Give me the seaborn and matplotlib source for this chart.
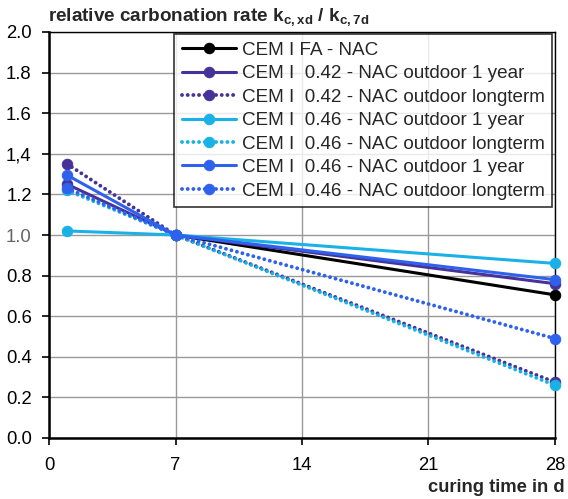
import pandas as pd
import matplotlib.pyplot as plt
import seaborn as sns

# Datos
series_names = ['CEM I FA - NAC',
                'CEM I  0.42 - NAC outdoor 1 year',
                'CEM I  0.42 - NAC outdoor longterm',
                'CEM I  0.46 - NAC outdoor 1 year',
                'CEM I  0.46 - NAC outdoor longterm',
                'CEM I  0.46 - NAC outdoor 1 year',
                'CEM I  0.46 - NAC outdoor longterm']
days_black = [7, 28]
days = [1, 7, 28]
fa_nac = [1.0, 0.705]
cem042_1y = [1.25, 1.0, 0.76]
cem042_lt = [1.35, 1.0, 0.275]
cem046_1y_a = [1.02, 1.0, 0.86]
cem046_lt_a = [1.22, 1.0, 0.26]
cem046_1y_b = [1.295, 1.0, 0.78]
cem046_lt_b = [1.23, 1.0, 0.49]

y_ticks = [0.0, 0.2, 0.4, 0.6, 0.8, 1.0, 1.2, 1.4, 1.6, 1.8, 2.0]
y_tick_labels = ['0.0', '0.2', '0.4', '0.6', '0.8', '1.0', '1.2', '1,4', '1.6', '1.8', '2.0']
x_ticks = [0, 7, 14, 21, 28]

sns.set_style('white')
plt.rcParams['font.family'] = ['Liberation Sans', 'DejaVu Sans']
plt.rcParams['mathtext.fontset'] = 'custom'
plt.rcParams['mathtext.rm'] = 'Liberation Sans'
plt.rcParams['mathtext.bf'] = 'Liberation Sans:bold'

fig = plt.figure(figsize=(5.68, 4.99), dpi=100)
ax = fig.add_axes([49 / 568, 1 - 438 / 499, 506 / 568, 406 / 499])

purple = '#46339a'
cyan = '#1ab2e6'
blue = '#2f62ec'
dotted = (0, (0.01, 1.45))

estilos = [
    (days_black, fa_nac, 'black', '-'),
    (days, cem042_1y, purple, '-'),
    (days, cem042_lt, purple, dotted),
    (days, cem046_1y_a, cyan, '-'),
    (days, cem046_lt_a, cyan, dotted),
    (days, cem046_1y_b, blue, '-'),
    (days, cem046_lt_b, blue, dotted),
]

for name, (x, y, c, ls) in zip(series_names, estilos):
    df = pd.DataFrame({'x': x, 'y': y})
    sns.lineplot(data=df, x='x', y='y', ax=ax, color=c, linestyle=ls,
                 linewidth=2.2 if ls == '-' else 2.8, marker='o', markersize=7.5,
                 markeredgecolor=c, dash_capstyle='round', label=name,
                 clip_on=False, zorder=3)

ax.set_xlim(0, 28)
ax.set_ylim(0, 2.0)
ax.set_xticks(x_ticks)
ax.set_yticks(y_ticks)
ax.set_yticklabels(y_tick_labels)
ax.tick_params(axis='both', labelsize=13.3, direction='out', length=5, width=1.2,
               left=True, bottom=True, colors='black')
ax.tick_params(axis='y', pad=7.5)
ax.tick_params(axis='x', pad=9)
ax.get_yticklabels()[5].set_color('#666666')
ax.grid(True, color='#999999', linewidth=1.0)
ax.set_axisbelow(True)
for s in ['left', 'bottom']:
    ax.spines[s].set_color('black')
    ax.spines[s].set_linewidth(1.8)
for s in ['right', 'top']:
    ax.spines[s].set_color('black')
    ax.spines[s].set_linewidth(1.0)
ax.set_xlabel('')
ax.set_ylabel('')

leg = ax.legend(loc='upper right', bbox_to_anchor=(552 / 568, 1 - 34 / 499),
                bbox_transform=fig.transFigure, fontsize=13.6, frameon=True,
                fancybox=False, handlelength=2.85, handletextpad=0.32,
                borderpad=0.4, labelspacing=0.33, borderaxespad=0)
leg.get_frame().set_edgecolor('black')
leg.get_frame().set_linewidth(1.2)
leg.set_zorder(5)

fig.text(48 / 568, 1 - 17 / 499,
         r'relative carbonation rate $\mathbf{k_{c,xd}}$ / $\mathbf{k_{c,7d}}$',
         fontsize=13.6, fontweight='bold', va='center', ha='left')
fig.text(565 / 568, 1 - 488 / 499, 'curing time in d', fontsize=13.2,
         fontweight='bold', va='center', ha='right')

plt.savefig('out.png', dpi=100)
